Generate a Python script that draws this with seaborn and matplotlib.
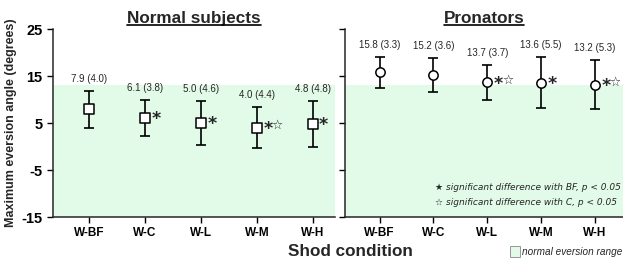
import matplotlib
matplotlib.use("Agg")
import matplotlib.pyplot as plt
import seaborn as sns
import pandas as pd
from matplotlib.patches import Rectangle

conditions = ["W-BF", "W-C", "W-L", "W-M", "W-H"]
normal_mean = [7.9, 6.1, 5.0, 4.0, 4.8]
normal_sd = [4.0, 3.8, 4.6, 4.4, 4.8]
pron_mean = [15.8, 15.2, 13.7, 13.6, 13.2]
pron_sd = [3.3, 3.6, 3.7, 5.5, 5.3]
normal_sig_bf = [False, True, True, True, True]
normal_sig_c = [False, False, False, True, False]
pron_sig_bf = [False, False, True, True, True]
pron_sig_c = [False, False, True, False, True]
normal_range_top = 13
yticks = [25, 15, 5, -5, -15]

sns.set_style("ticks")
plt.rcParams["font.family"] = ["Liberation Sans", "DejaVu Sans"]

fig = plt.figure(figsize=(6.23, 2.69), dpi=100)
axL = fig.add_axes([0.085, 0.193, 0.453, 0.699])
axR = fig.add_axes([0.554, 0.193, 0.446, 0.699])

green = "#E2FAE8"

def draw(ax, means, sds, sig_bf, sig_c, marker, title):
    df = pd.DataFrame({"cond": conditions, "mean": means, "sd": sds})
    pos = list(range(len(conditions)))
    ax.axhspan(-15, normal_range_top, color=green, zorder=0, lw=0)
    ax.errorbar(pos, df["mean"], yerr=df["sd"], fmt="none", ecolor="black",
                elinewidth=1.2, capsize=3.5, capthick=1.2, zorder=2)
    sns.scatterplot(x=pos, y=df["mean"], ax=ax, marker=marker, s=45,
                    facecolor="white", edgecolor="black", linewidth=1.1, zorder=3)
    for i, (m, s) in enumerate(zip(means, sds)):
        ax.annotate(f"{m:.1f} ({s:.1f})", (i, m + s), xytext=(0, 5),
                    textcoords="offset points", ha="center", va="bottom",
                    fontsize=7)
        if sig_bf[i]:
            ax.annotate("*", (i, m), xytext=(4.5, -1), textcoords="offset points",
                        ha="left", va="center", fontsize=12.5, fontweight="bold",
                        family=["DejaVu Sans"])
        if sig_c[i]:
            ax.annotate("☆", (i, m), xytext=(10.5, 1.5), textcoords="offset points",
                        ha="left", va="center", fontsize=9,
                        family=["DejaVu Sans"])
    ax.set_ylim(-15, 25)
    ax.set_yticks(yticks)
    ax.set_xticks(pos)
    ax.set_xticklabels(conditions, fontsize=8.5, fontweight="bold")
    ax.set_title(title, fontsize=12.3, fontweight="bold", pad=4)
    for sp in ["top", "right"]:
        ax.spines[sp].set_visible(False)
    ax.spines["left"].set_linewidth(1.1)
    ax.spines["bottom"].set_linewidth(1.1)
    ax.tick_params(axis="both", length=4, width=1.0, colors="black")
    ax.set_xlabel("")
    ax.set_ylabel("")

draw(axL, normal_mean, normal_sd, normal_sig_bf, normal_sig_c, "s", "Normal subjects")
axL.set_xlim(-0.65, 4.4)
draw(axR, pron_mean, pron_sd, pron_sig_bf, pron_sig_c, "o", "Pronators")
axR.set_xlim(-0.64, 4.52)

axL.set_yticklabels([str(t) for t in yticks], fontsize=10.5, fontweight="bold")
axR.set_yticklabels([])
axL.set_ylabel("Maximum eversion angle (degrees)", fontsize=9, fontweight="bold", labelpad=3)

# underline titles
fig.canvas.draw()
renderer = fig.canvas.get_renderer()
inv = fig.transFigure.inverted()
for ax in (axL, axR):
    bb = ax.title.get_window_extent(renderer)
    (x0, y0), (x1, y1) = inv.transform([[bb.x0, bb.y0], [bb.x1, bb.y1]])
    fig.add_artist(plt.Line2D([x0, x1], [y0 + 0.006, y0 + 0.006], color="black", lw=1.2,
                              transform=fig.transFigure))

axR.text(0.325, 0.155, "★ significant difference with BF, p < 0.05", transform=axR.transAxes,
         fontsize=6.5, fontstyle="italic", ha="left", va="center", family=["DejaVu Sans"])
axR.text(0.325, 0.08, "☆ significant difference with C, p < 0.05", transform=axR.transAxes,
         fontsize=6.5, fontstyle="italic", ha="left", va="center", family=["DejaVu Sans"])

fig.text(0.562, 0.066, "Shod condition", fontsize=12.3, fontweight="bold", ha="center", va="center")
fig.add_artist(Rectangle((0.818, 0.046), 0.016, 0.04, transform=fig.transFigure,
                         facecolor=green, edgecolor="#888888", lw=0.6))
fig.text(0.838, 0.064, "normal eversion range", fontsize=7.2, fontstyle="italic",
         ha="left", va="center")

fig.savefig("out.png", dpi=100)
